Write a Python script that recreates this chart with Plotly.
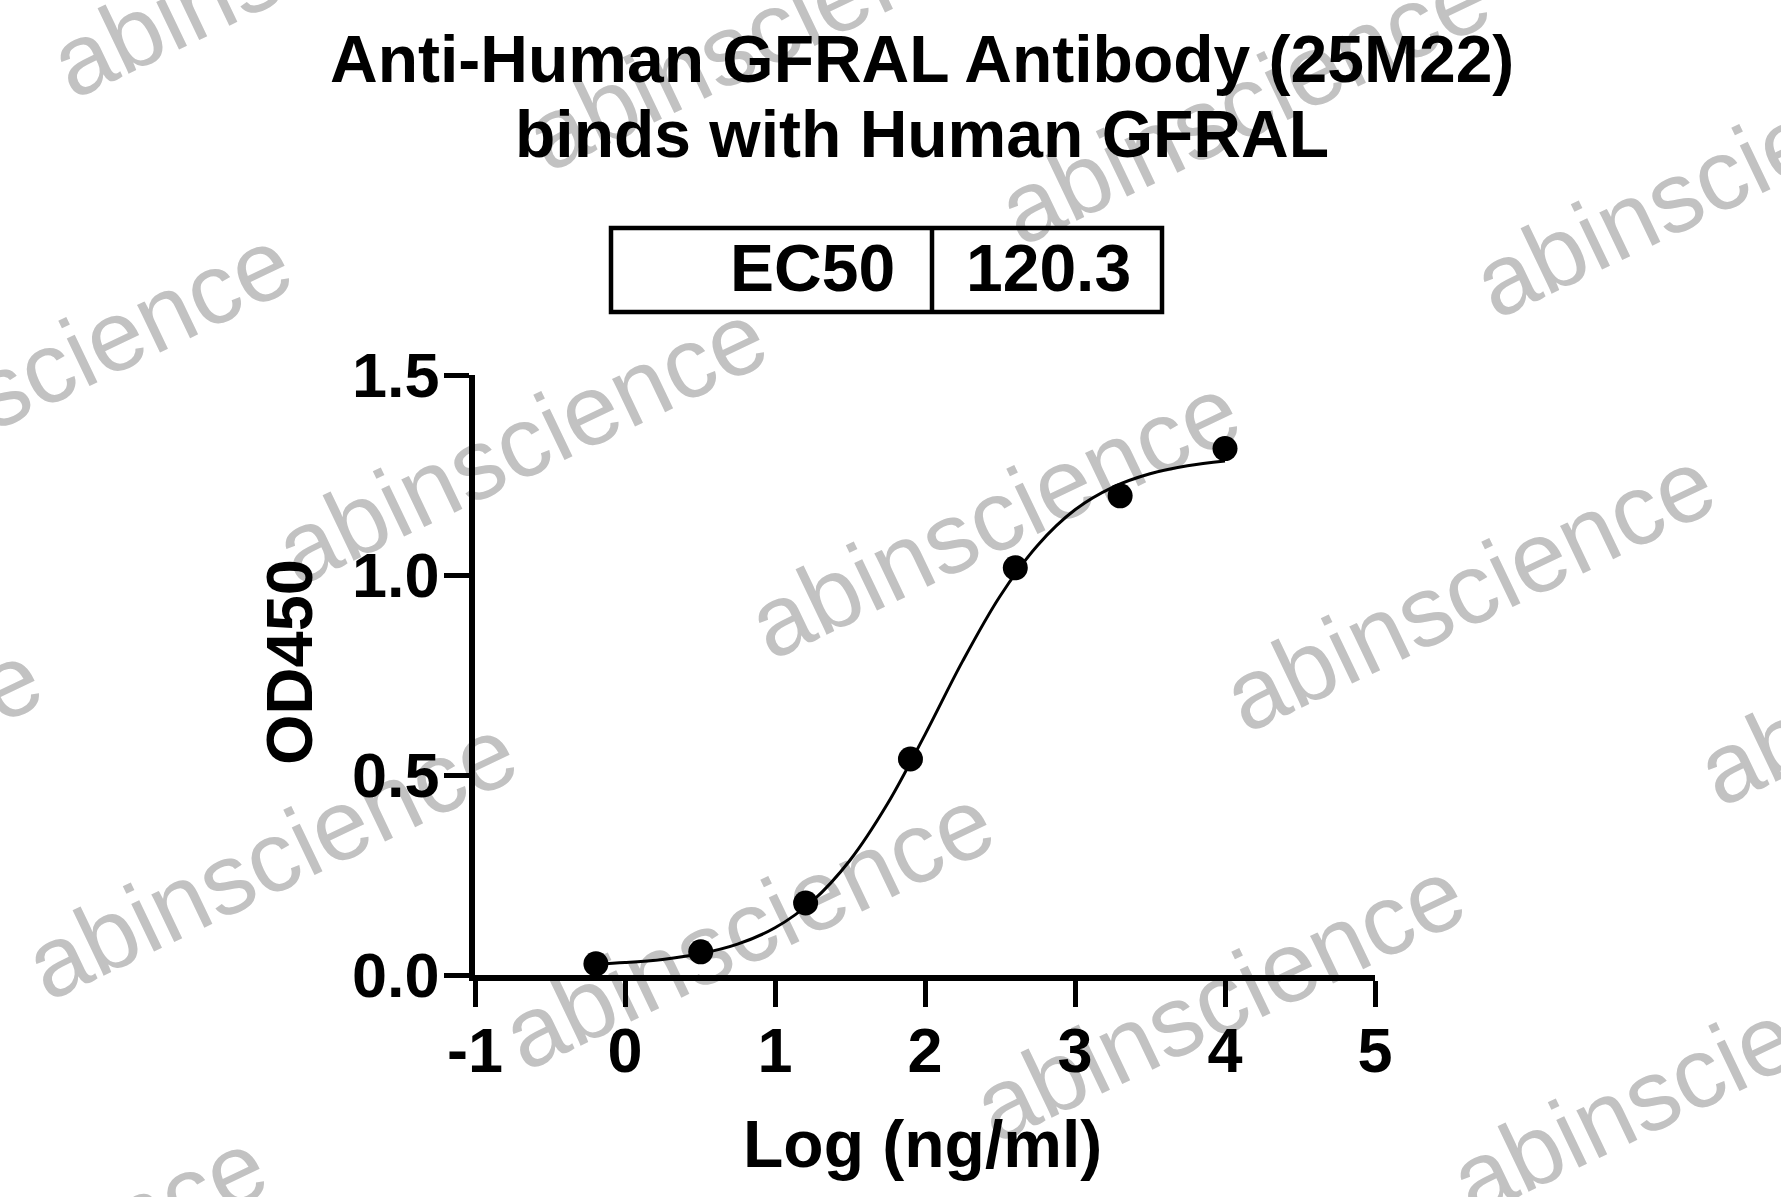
import plotly.graph_objects as go

# ---------------- data ----------------
log_conc = [-0.194, 0.505, 1.204, 1.903, 2.602, 3.301, 4.0]          # Log (ng/ml)
od450 = [0.028, 0.058, 0.180, 0.540, 1.018, 1.198, 1.316]            # OD450

fit_x = [-0.19, 0.0, 0.25, 0.5, 0.75, 1.0, 1.25, 1.5, 1.75, 2.0,
         2.25, 2.5, 2.75, 3.0, 3.25, 3.5, 3.75, 4.0]
fit_y = [0.027, 0.031, 0.039, 0.053, 0.077, 0.118, 0.185, 0.287, 0.428, 0.601,
         0.784, 0.947, 1.074, 1.163, 1.219, 1.253, 1.273, 1.285]

x_ticks = [-1, 0, 1, 2, 3, 4, 5]
x_tick_text = ["-1", "0", "1", "2", "3", "4", "5"]
y_ticks = [0.0, 0.5, 1.0, 1.5]
y_tick_text = ["0.0", "0.5", "1.0", "1.5"]

title_lines = ["Anti-Human GFRAL Antibody (25M22)", "binds with Human GFRAL"]
ec50_label = "EC50"
ec50_value = "120.3"
x_title = "Log (ng/ml)"
y_title = "OD450"
watermark = "abinscience"

# ---------------- styling ----------------
W, H = 1781, 1197
L, R, T, B = 475, 406, 375, 222
FONT = "Liberation Sans, Arial, Helvetica, sans-serif"
BOLD = dict(family=FONT, color="black", weight="bold")

def px_x(px):
    return (px - L) / (W - L - R)

def px_y(py):
    return (H - B - py) / (H - T - B)

fig = go.Figure()
fig.add_trace(go.Scatter(x=fit_x, y=fit_y, mode="lines", line_shape="spline",
                         line=dict(color="black", width=3), hoverinfo="skip",
                         showlegend=False, cliponaxis=False))
fig.add_trace(go.Scatter(x=log_conc, y=od450, mode="markers",
                         marker=dict(color="black", size=25), showlegend=False,
                         cliponaxis=False))

shapes = []
annotations = []

# watermark lattice (pixel centres)
wm_centres = [(292, -53), (767, 20), (1240, 94), (1715, 167),
              (42, 360), (517, 434), (990, 508), (1465, 581), (1939, 655),
              (-208, 775), (267, 849), (744, 919), (1215, 991), (1692, 1065),
              (17, 1263), (494, 1334)]
for cx, cy in wm_centres:
    xp, yp = px_x(cx), px_y(cy)
    shapes.append(dict(type="rect", xref="paper", yref="paper", layer="below",
                       x0=xp, x1=xp, y0=yp, y1=yp, line=dict(width=0),
                       label=dict(text=watermark, textangle=-25.5,
                                  textposition="middle center",
                                  xanchor="center", yanchor="middle",
                                  font=dict(family=FONT, size=100, color="#c2c2c2"))))

# title
annotations.append(dict(text=title_lines[0], xref="paper", yref="paper",
                        x=px_x(922), y=px_y(59), xanchor="center", yanchor="middle",
                        showarrow=False, font=dict(**BOLD, size=66)))
annotations.append(dict(text=title_lines[1], xref="paper", yref="paper",
                        x=px_x(922), y=px_y(134), xanchor="center", yanchor="middle",
                        showarrow=False, font=dict(**BOLD, size=66)))

# EC50 table
bx0, bx1, bdiv, by0, by1 = 611, 1162, 932, 228, 312
shapes.append(dict(type="rect", xref="paper", yref="paper",
                   x0=px_x(bx0), x1=px_x(bx1), y0=px_y(by1), y1=px_y(by0),
                   line=dict(color="black", width=4.5)))
shapes.append(dict(type="line", xref="paper", yref="paper",
                   x0=px_x(bdiv), x1=px_x(bdiv), y0=px_y(by1), y1=px_y(by0),
                   line=dict(color="black", width=4.5)))
annotations.append(dict(text=ec50_label, xref="paper", yref="paper",
                        x=px_x(897), y=px_y(268), xanchor="right", yanchor="middle",
                        showarrow=False, font=dict(**BOLD, size=66)))
annotations.append(dict(text=ec50_value, xref="paper", yref="paper",
                        x=px_x(964), y=px_y(268), xanchor="left", yanchor="middle",
                        showarrow=False, font=dict(**BOLD, size=66)))

# axis titles
annotations.append(dict(text=x_title, xref="paper", yref="paper",
                        x=px_x(922), y=px_y(1144), xanchor="center", yanchor="middle",
                        showarrow=False, font=dict(**BOLD, size=66)))
annotations.append(dict(text=y_title, xref="paper", yref="paper", textangle=-90,
                        x=px_x(289), y=px_y(662), xanchor="center", yanchor="middle",
                        showarrow=False, font=dict(**BOLD, size=65)))

axis_common = dict(showline=True, linecolor="black", linewidth=5.5, ticks="outside",
                   tickcolor="black", tickwidth=5, showgrid=False, zeroline=False,
                   tickfont=dict(**BOLD, size=63))

fig.update_layout(
    width=W, height=H,
    margin=dict(l=L, r=R, t=T, b=B, autoexpand=False),
    paper_bgcolor="white", plot_bgcolor="rgba(0,0,0,0)",
    shapes=shapes, annotations=annotations,
    xaxis=dict(**axis_common, range=[-1, 5], tickvals=x_ticks, ticktext=x_tick_text,
               ticklen=26, ticklabelstandoff=-10),
    yaxis=dict(**axis_common, range=[0, 1.5], tickvals=y_ticks, ticktext=y_tick_text,
               ticklen=25, ticklabelstandoff=-8),
)

fig.write_html("out.html", config={"displayModeBar": False},
               post_script="document.body.style.margin='0px';document.body.style.overflow='hidden';")
